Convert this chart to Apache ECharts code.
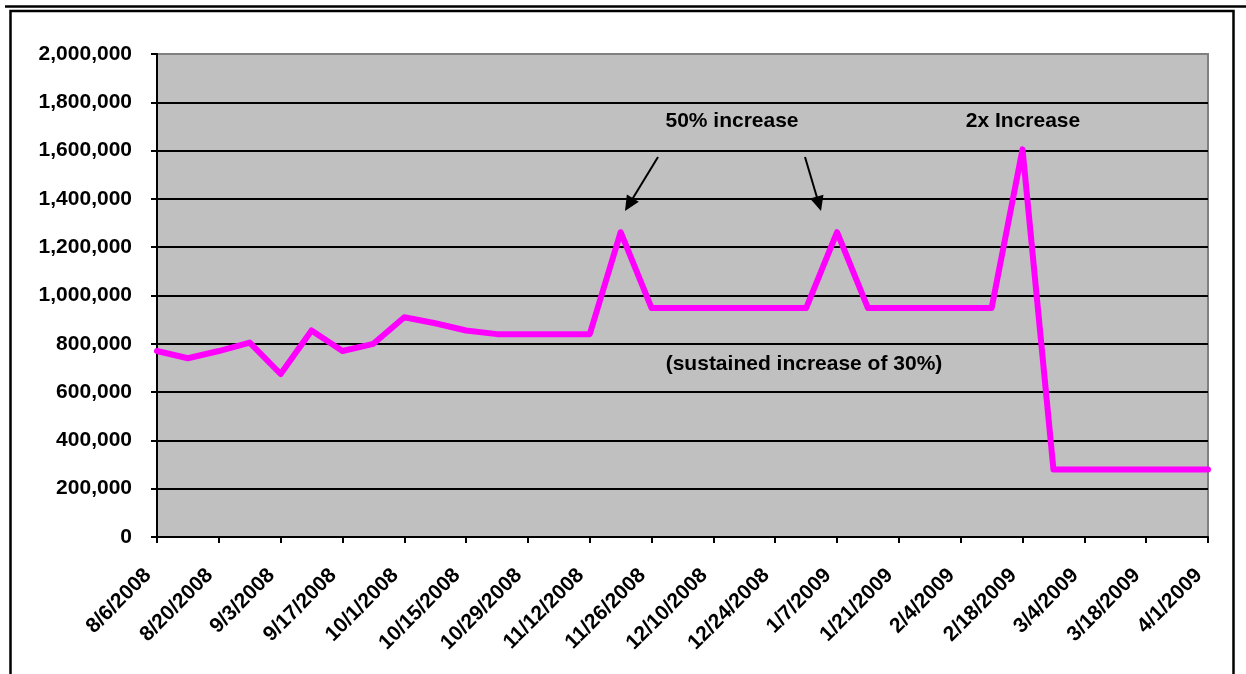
<!DOCTYPE html>
<html>
<head>
<meta charset="utf-8">
<script src="https://cdn.jsdelivr.net/npm/echarts@6/dist/echarts.min.js"></script>
<style>
    html, body { margin: 0; padding: 0; background: #fff; }
    #main { width: 1246px; height: 674px; }
</style>
</head>
<body>
<div id="main"></div>
<script>
var weeks = ['8/6/2008', '8/13/2008', '8/20/2008', '8/27/2008', '9/3/2008', '9/10/2008', '9/17/2008',
    '9/24/2008', '10/1/2008', '10/8/2008', '10/15/2008', '10/22/2008', '10/29/2008', '11/5/2008',
    '11/12/2008', '11/19/2008', '11/26/2008', '12/3/2008', '12/10/2008', '12/17/2008', '12/24/2008',
    '12/31/2008', '1/7/2009', '1/14/2009', '1/21/2009', '1/28/2009', '2/4/2009', '2/11/2009',
    '2/18/2009', '2/25/2009', '3/4/2009', '3/11/2009', '3/18/2009', '3/25/2009', '4/1/2009'];

var counts = [770000, 740000, 770000, 805000, 675000, 855000, 770000, 800000, 910000, 885000,
    855000, 840000, 840000, 840000, 840000, 1262000, 948000, 948000, 948000, 948000, 948000,
    948000, 1262000, 948000, 948000, 948000, 948000, 948000, 1605000, 280000, 280000, 280000,
    280000, 280000, 280000];

var yTicks = [0, 200000, 400000, 600000, 800000, 1000000, 1200000, 1400000, 1600000, 1800000, 2000000];

var notes = ['50% increase', '2x Increase', '(sustained increase of 30%)'];

var font = '"Liberation Sans", Arial, sans-serif';

// one arrow = line + filled head at the tip
function arrow(x1, y1, x2, y2) {
    var dx = x2 - x1, dy = y2 - y1;
    var len = Math.sqrt(dx * dx + dy * dy);
    var ux = dx / len, uy = dy / len;
    var bx = x2 - ux * 15, by = y2 - uy * 15;
    var px = -uy * 7, py = ux * 7;
    return [
        {type: 'line', shape: {x1: x1, y1: y1, x2: bx + ux * 2, y2: by + uy * 2}, style: {stroke: '#000', lineWidth: 2}, z: 100},
        {type: 'polygon', shape: {points: [[x2, y2], [bx + px, by + py], [bx - px, by - py]]},
            style: {fill: '#000'}, z: 100}
    ];
}

// split lines black, the top one grey like the plot border
var splitColors = yTicks.map(function (v, i) {
    return i === yTicks.length - 1 ? '#808080' : '#000';
});

var chart = echarts.init(document.getElementById('main'));

var option = {
    backgroundColor: '#fff',
    animation: false,
    grid: {
        left: 157,
        right: 38,
        top: 54,
        bottom: 137,
        show: true,
        backgroundColor: '#c0c0c0',
        borderColor: '#808080',
        borderWidth: 2
    },
    xAxis: {
        type: 'category',
        data: weeks,
        boundaryGap: false,
        axisLine: {lineStyle: {color: '#000', width: 2}},
        axisTick: {show: true, interval: 1, length: 6, lineStyle: {color: '#000', width: 2}},
        axisLabel: {
            interval: 1,
            rotate: 45,
            margin: 26,
            padding: [0, 13, 0, 0],
            color: '#000',
            fontFamily: font,
            fontWeight: 'bold',
            fontSize: 21
        },
        splitLine: {show: false}
    },
    yAxis: {
        type: 'value',
        min: yTicks[0],
        max: yTicks[yTicks.length - 1],
        interval: 200000,
        axisLine: {show: true, lineStyle: {color: '#000', width: 2}},
        axisTick: {show: true, length: 6, lineStyle: {color: '#000', width: 2}},
        axisLabel: {
            margin: 25,
            color: '#000',
            fontFamily: font,
            fontWeight: 'bold',
            fontSize: 21,
            formatter: function (v) {
                return v.toLocaleString('en-US');
            }
        },
        splitLine: {show: true, lineStyle: {color: splitColors, width: 2}}
    },
    series: [{
        type: 'line',
        data: counts,
        symbol: 'none',
        lineStyle: {color: '#ff00ff', width: 6, join: 'round', cap: 'round'},
        z: 5
    }],
    graphic: [
        {type: 'line', shape: {x1: 5, y1: 6.5, x2: 1246, y2: 6.5}, style: {stroke: '#000', lineWidth: 2.5}},
        {type: 'rect', shape: {x: 10.5, y: 11, width: 1223, height: 700},
            style: {fill: null, stroke: '#000', lineWidth: 2.5}},
        {type: 'text', x: 732, y: 121, style: {text: notes[0], fill: '#000', font: 'bold 21px ' + font,
            align: 'center', verticalAlign: 'middle'}, z: 100},
        {type: 'text', x: 1023, y: 121, style: {text: notes[1], fill: '#000', font: 'bold 21px ' + font,
            align: 'center', verticalAlign: 'middle'}, z: 100},
        {type: 'text', x: 804, y: 364, style: {text: notes[2], fill: '#000', font: 'bold 21px ' + font,
            align: 'center', verticalAlign: 'middle'}, z: 100}
    ].concat(arrow(658, 157, 625, 211), arrow(805, 157, 821, 211))
};

chart.setOption(option);
</script>
</body>
</html>
